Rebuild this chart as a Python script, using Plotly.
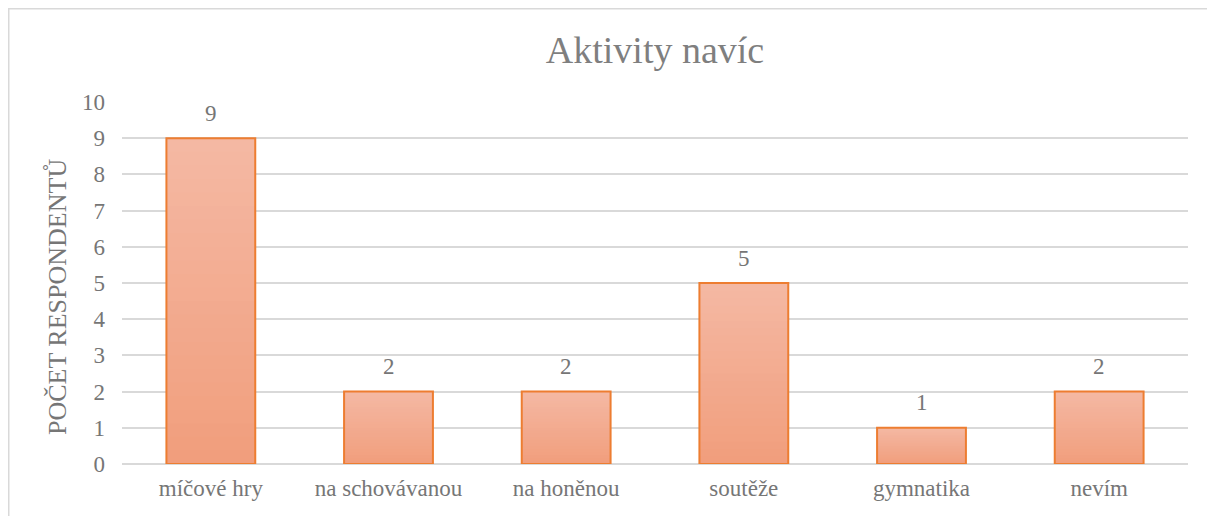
import plotly.graph_objects as go

categories = ["míčové hry", "na schovávanou", "na honěnou", "soutěže", "gymnatika", "nevím"]
values = [9, 2, 2, 5, 1, 2]
y_ticks = list(range(0, 11))
y_title = "POČET RESPONDENTŮ"
chart_title = "Aktivity navíc"

# page has an 8px body margin, so the figure is 8px smaller than the window
W, H = 1207, 508
L, R, T, B = 114, 27, 94, 52
pw, ph = W - L - R, H - T - B

FONT = "'Liberation Serif', 'DejaVu Serif', serif"
top_rgb = (244, 184, 163)
bot_rgb = (241, 157, 123)
N = 24

fig = go.Figure()
# gradient layers (lightest/tallest first, darker/shorter on top)
for k in range(N, 0, -1):
    f = k / N
    c = tuple(round(bot_rgb[i] + (top_rgb[i] - bot_rgb[i]) * f) for i in range(3))
    fig.add_trace(go.Bar(
        x=categories, y=[v * f for v in values], width=0.5,
        marker=dict(color=f"rgb{c}", line=dict(width=0)),
        hoverinfo="skip", showlegend=False,
    ))
# outline
fig.add_trace(go.Bar(
    x=categories, y=values, width=0.5,
    marker=dict(color="rgba(0,0,0,0)", line=dict(color="#ED7D31", width=2)),
    showlegend=False,
))
# data labels
for cat, v in zip(categories, values):
    fig.add_annotation(x=cat, y=v, text=str(v), showarrow=False, yanchor="middle", yshift=25,
                       font=dict(family=FONT, size=23, color="#767676"))

# y-axis title as rotated annotation
fig.add_annotation(xref="paper", yref="paper", x=(57 - 8 - L) / pw, y=1 - (297 - 8 - T) / ph,
                   text=y_title, textangle=-90, showarrow=False, xanchor="center", yanchor="middle",
                   font=dict(family=FONT, size=26, color="#767676"))

fig.update_layout(
    width=W, height=H,
    barmode="overlay",
    margin=dict(l=L, r=R, t=T, b=B),
    paper_bgcolor="white", plot_bgcolor="white",
    font=dict(family=FONT, color="#767676"),
    title=dict(text=chart_title, x=(L + pw / 2) / W, xanchor="center", y=1 - 42 / H, yanchor="middle",
               font=dict(family=FONT, size=38, color="#7F7F7F")),
    xaxis=dict(showgrid=False, showline=False, ticks="", ticklabelstandoff=8,
               tickfont=dict(family=FONT, size=23, color="#767676")),
    yaxis=dict(range=[0, 10], tickvals=y_ticks, showgrid=True, gridcolor="#D9D9D9", gridwidth=1.5,
               zeroline=True, zerolinecolor="#D9D9D9", zerolinewidth=1.5,
               ticks="", ticklen=0, ticklabelstandoff=16,
               tickfont=dict(family=FONT, size=23, color="#767676")),
    shapes=[dict(type="rect", xref="paper", yref="paper",
                 x0=(0.75 - L) / pw, x1=(W + 5 - L) / pw,
                 y0=-(B + 5) / ph, y1=1 + (T - 0.75) / ph,
                 line=dict(color="#D9D9D9", width=1.5), fillcolor="rgba(0,0,0,0)", layer="below")],
)

fig.write_html("out.html")
